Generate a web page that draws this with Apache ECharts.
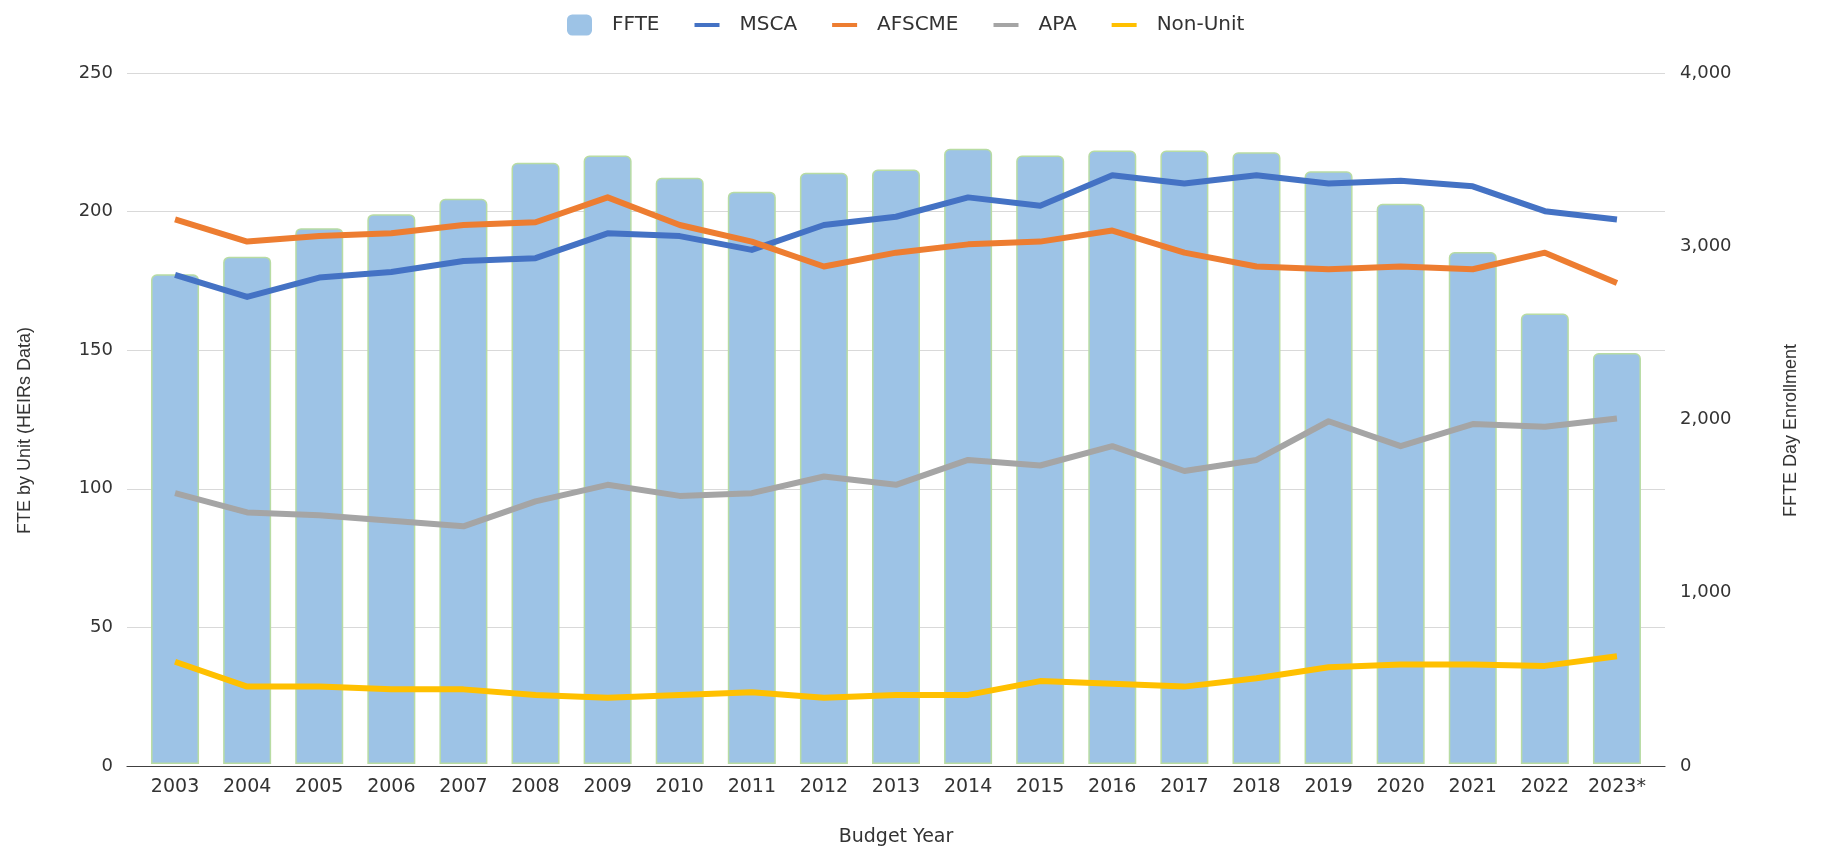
<!DOCTYPE html>
<html>
<head>
<meta charset="utf-8">
<script src="https://cdn.jsdelivr.net/npm/echarts@6/dist/echarts.min.js"></script>
<style>
  html, body { margin: 0; padding: 0; background: #ffffff; }
  #chart { width: 1823px; height: 852px; }
</style>
</head>
<body>
<div id="chart"></div>
<script>
const categories = ['2003','2004','2005','2006','2007','2008','2009','2010','2011','2012','2013','2014','2015','2016','2017','2018','2019','2020','2021','2022','2023*'];
const ffte    = [2835, 2937, 3102, 3183, 3272, 3480, 3522, 3393, 3313, 3422, 3441, 3561, 3522, 3551, 3551, 3541, 3431, 3243, 2964, 2608, 2379];
const msca    = [177, 169, 176, 178, 182, 183, 192, 191, 186, 195, 198, 205, 202, 213, 210, 213, 210, 211, 209, 200, 197];
const afscme  = [197, 189, 191, 192, 195, 196, 205, 195, 189, 180, 185, 188, 189, 193, 185, 180, 179, 180, 179, 185, 174];
const apa     = [98, 91, 90, 88, 86, 95, 101, 97, 98, 104, 101, 110, 108, 115, 106, 110, 124, 115, 123, 122, 125];
const nonUnit = [37, 28, 28, 27, 27, 25, 24, 25, 26, 24, 25, 25, 30, 29, 28, 31, 35, 36, 36, 35.5, 39];
const leftTicks  = { min: 0, max: 250, interval: 50 };
const rightTicks = { min: 0, max: 4000, interval: 1000 };

const textColor = '#333333';
const chart = echarts.init(document.getElementById('chart'), null, { renderer: 'canvas' });

const lineSeries = (name, data, color) => ({
  name, type: 'line', data,
  xAxisIndex: 1, yAxisIndex: 2,
  symbol: 'none',
  lineStyle: { color, width: 6, cap: 'butt', join: 'round' },
  itemStyle: { color },
  z: 3
});

const lineIcon = 'path://M0,0H25V4H0Z';

chart.setOption({
  animation: false,
  backgroundColor: '#ffffff',
  legend: {
    left: 562, top: 9.5,
    itemWidth: 25, itemHeight: 21, itemGap: 35,
    itemStyle: { borderWidth: 0 },
    textStyle: { fontFamily: 'DejaVu Sans', fontSize: 20, color: textColor, padding: [0, 0, 0, 15] },
    data: [
      { name: 'FFTE', icon: 'roundRect' },
      { name: 'MSCA', icon: lineIcon },
      { name: 'AFSCME', icon: lineIcon },
      { name: 'APA', icon: lineIcon },
      { name: 'Non-Unit', icon: lineIcon }
    ]
  },
  grid: [
    { left: 127, right: 158, top: 73, bottom: 86 },
    { left: 139, right: 170, top: 73, bottom: 86 }
  ],
  xAxis: [
    {
      gridIndex: 0, type: 'value', min: 0, max: 1,
      axisLine: { show: true, lineStyle: { color: '#404040', width: 1.2 } },
      axisTick: { show: false }, axisLabel: { show: false }, splitLine: { show: false }
    },
    {
      gridIndex: 1, type: 'category', data: categories, boundaryGap: true,
      axisLine: { show: false }, axisTick: { show: false },
      axisLabel: { interval: 0, fontFamily: 'DejaVu Sans', fontSize: 19, color: textColor, margin: 14 },
      name: 'Budget Year', nameLocation: 'middle', nameGap: 64,
      nameTextStyle: { fontFamily: 'DejaVu Sans', fontSize: 19, color: textColor }
    }
  ],
  yAxis: [
    {
      gridIndex: 0, type: 'value', position: 'left', ...leftTicks,
      axisLine: { show: false }, axisTick: { show: false },
      axisLabel: { fontFamily: 'DejaVu Sans', fontSize: 18, color: textColor, margin: 14 },
      splitLine: { show: true, lineStyle: { color: '#D9D9D9', width: 1.2 } },
      name: 'FTE by Unit (HEIRs Data)', nameLocation: 'middle', nameRotate: 90, nameGap: 93,
      nameTextStyle: { fontFamily: 'Liberation Sans', fontSize: 18, color: textColor, padding: [0, 22, 0, 0] }
    },
    {
      gridIndex: 0, type: 'value', position: 'right', ...rightTicks,
      axisLine: { show: false }, axisTick: { show: false },
      axisLabel: { fontFamily: 'DejaVu Sans', fontSize: 18, color: textColor, margin: 15,
        formatter: v => v.toLocaleString('en-US') },
      splitLine: { show: false },
      name: 'FFTE Day Enrollment', nameLocation: 'middle', nameRotate: 90, nameGap: 117,
      nameTextStyle: { fontFamily: 'Liberation Sans', fontSize: 18, color: textColor, padding: [0, 22, 0, 0] }
    },
    {
      gridIndex: 1, type: 'value', position: 'left', ...leftTicks,
      show: false, splitLine: { show: false }
    },
    {
      gridIndex: 1, type: 'value', position: 'right', ...rightTicks,
      show: false, splitLine: { show: false }
    }
  ],
  series: [
    {
      name: 'FFTE', type: 'bar', data: ffte,
      xAxisIndex: 1, yAxisIndex: 3,
      barWidth: 48,
      itemStyle: { color: '#9DC3E6', borderColor: '#B8DCA3', borderWidth: 1.5, borderRadius: [5, 5, 0, 0] },
      z: 2
    },
    lineSeries('MSCA', msca, '#4472C4'),
    lineSeries('AFSCME', afscme, '#ED7D31'),
    lineSeries('APA', apa, '#A5A5A5'),
    lineSeries('Non-Unit', nonUnit, '#FFC000')
  ]
});
</script>
</body>
</html>
